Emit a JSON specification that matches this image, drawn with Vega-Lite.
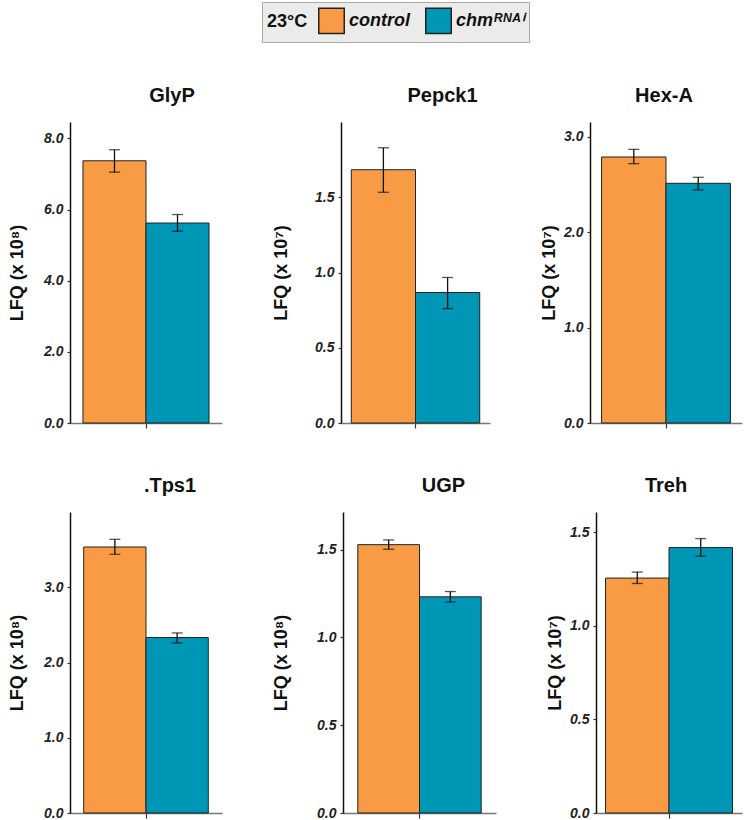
{
  "$schema": "https://vega.github.io/schema/vega-lite/v6.json",
  "padding": {"left": 8, "top": 1, "right": 2, "bottom": 2},
  "background": "white",
  "data": {"values": [
    {"gene": "GlyP", "group": "control", "value": 7.37, "lo": 7.05, "hi": 7.68},
    {"gene": "GlyP", "group": "chmᴿᴺᴬⁱ", "value": 5.62, "lo": 5.39, "hi": 5.86},
    {"gene": "Pepck1", "group": "control", "value": 1.683, "lo": 1.533, "hi": 1.829},
    {"gene": "Pepck1", "group": "chmᴿᴺᴬⁱ", "value": 0.867, "lo": 0.76, "hi": 0.967},
    {"gene": "Hex-A", "group": "control", "value": 2.79, "lo": 2.72, "hi": 2.87},
    {"gene": "Hex-A", "group": "chmᴿᴺᴬⁱ", "value": 2.514, "lo": 2.445, "hi": 2.577},
    {"gene": "Tps1", "group": "control", "value": 3.535, "lo": 3.438, "hi": 3.637},
    {"gene": "Tps1", "group": "chmᴿᴺᴬⁱ", "value": 2.332, "lo": 2.26, "hi": 2.393},
    {"gene": "UGP", "group": "control", "value": 1.528, "lo": 1.502, "hi": 1.555},
    {"gene": "UGP", "group": "chmᴿᴺᴬⁱ", "value": 1.231, "lo": 1.201, "hi": 1.261},
    {"gene": "Treh", "group": "control", "value": 1.255, "lo": 1.226, "hi": 1.287},
    {"gene": "Treh", "group": "chmᴿᴺᴬⁱ", "value": 1.418, "lo": 1.372, "hi": 1.466}
  ]},
  "resolve": {"scale": {"y": "independent", "x": "independent", "xOffset": "independent"}, "legend": {"color": "shared"}},
  "spacing": 46,
  "vconcat": [
    {
      "spacing": 50,
      "resolve": {"scale": {"y": "independent", "x": "independent", "xOffset": "independent"}, "legend": {"color": "shared"}},
      "hconcat": [
        {
          "width": 152, "height": 301,
          "title": {"text": "GlyP", "dx": 26},
          "transform": [{"filter": "datum.gene === 'GlyP'"}],
          "encoding": {
            "x": {"field": "gene", "type": "nominal", "scale": {"paddingOuter": 0.103, "paddingInner": 0}, "axis": {"labels": false, "title": null, "domainColor": "#777", "tickSize": 5}},
            "xOffset": {"field": "group", "type": "nominal", "sort": ["control", "chmᴿᴺᴬⁱ"], "scale": {"paddingInner": 0, "paddingOuter": 0}}
          },
          "layer": [
            {"mark": {"type": "bar", "stroke": "#222", "strokeWidth": 1},
             "encoding": {
               "y": {"field": "value", "type": "quantitative", "title": "LFQ (x 10⁸)", "scale": {"domain": [0, 8.46], "nice": false}, "axis": {"values": [0, 2, 4, 6, 8], "format": ".1f", "titlePadding": 17}},
               "color": {"field": "group", "type": "nominal", "title": "23°C", "sort": ["control", "chmᴿᴺᴬⁱ"], "scale": {"domain": ["control", "chmᴿᴺᴬⁱ"], "range": ["#F99B45", "#0096B6"]},
                 "legend": {"orient": "none", "legendX": 192, "legendY": -120, "direction": "horizontal", "titleOrient": "left", "symbolType": "square", "symbolSize": 650, "symbolStrokeColor": "#222", "symbolStrokeWidth": 1.5, "symbolOpacity": 1, "labelFontSize": 18, "labelFontWeight": "bold", "labelFontStyle": "italic", "labelColor": "#111", "titleFontSize": 18, "titleFontWeight": "bold", "titleColor": "#111", "fillColor": "#ebebeb", "strokeColor": "#aaaaaa", "padding": 5, "columnPadding": 12, "labelOffset": 4, "titlePadding": 10}}
             }},
            {"mark": {"type": "rule", "color": "#111", "strokeWidth": 1.3},
             "encoding": {"y": {"field": "lo", "type": "quantitative", "title": "LFQ (x 10⁸)"}, "y2": {"field": "hi"}}},
            {"mark": {"type": "tick", "orient": "horizontal", "color": "#111", "size": 11, "thickness": 1.3},
             "encoding": {"y": {"field": "lo", "type": "quantitative", "title": "LFQ (x 10⁸)"}}},
            {"mark": {"type": "tick", "orient": "horizontal", "color": "#111", "size": 11, "thickness": 1.3},
             "encoding": {"y": {"field": "hi", "type": "quantitative", "title": "LFQ (x 10⁸)"}}}
          ]
        },
        {
          "width": 149, "height": 301,
          "title": {"text": "Pepck1", "dx": 27},
          "transform": [{"filter": "datum.gene === 'Pepck1'"}],
          "encoding": {
            "x": {"field": "gene", "type": "nominal", "scale": {"paddingOuter": 0.08, "paddingInner": 0}, "axis": {"labels": false, "title": null, "domainColor": "#777", "tickSize": 5}},
            "xOffset": {"field": "group", "type": "nominal", "sort": ["control", "chmᴿᴺᴬⁱ"], "scale": {"paddingInner": 0, "paddingOuter": 0}}
          },
          "layer": [
            {"mark": {"type": "bar", "stroke": "#222", "strokeWidth": 1},
             "encoding": {
               "y": {"field": "value", "type": "quantitative", "title": "LFQ (x 10⁷)", "scale": {"domain": [0, 2.0], "nice": false}, "axis": {"values": [0, 0.5, 1, 1.5], "format": ".1f", "titlePadding": 24}},
               "color": {"field": "group", "type": "nominal", "title": "23°C", "sort": ["control", "chmᴿᴺᴬⁱ"], "scale": {"domain": ["control", "chmᴿᴺᴬⁱ"], "range": ["#F99B45", "#0096B6"]},
                 "legend": {"orient": "none", "legendX": 192, "legendY": -120, "direction": "horizontal", "titleOrient": "left", "symbolType": "square", "symbolSize": 650, "symbolStrokeColor": "#222", "symbolStrokeWidth": 1.5, "symbolOpacity": 1, "labelFontSize": 18, "labelFontWeight": "bold", "labelFontStyle": "italic", "labelColor": "#111", "titleFontSize": 18, "titleFontWeight": "bold", "titleColor": "#111", "fillColor": "#ebebeb", "strokeColor": "#aaaaaa", "padding": 5, "columnPadding": 12, "labelOffset": 4, "titlePadding": 10}}
             }},
            {"mark": {"type": "rule", "color": "#111", "strokeWidth": 1.3},
             "encoding": {"y": {"field": "lo", "type": "quantitative", "title": "LFQ (x 10⁷)"}, "y2": {"field": "hi"}}},
            {"mark": {"type": "tick", "orient": "horizontal", "color": "#111", "size": 11, "thickness": 1.3},
             "encoding": {"y": {"field": "lo", "type": "quantitative", "title": "LFQ (x 10⁷)"}}},
            {"mark": {"type": "tick", "orient": "horizontal", "color": "#111", "size": 11, "thickness": 1.3},
             "encoding": {"y": {"field": "hi", "type": "quantitative", "title": "LFQ (x 10⁷)"}}}
          ]
        },
        {
          "width": 152, "height": 301,
          "title": {"text": "Hex-A", "dx": -2},
          "transform": [{"filter": "datum.gene === 'Hex-A'"}],
          "encoding": {
            "x": {"field": "gene", "type": "nominal", "scale": {"paddingOuter": 0.09, "paddingInner": 0}, "axis": {"labels": false, "title": null, "domainColor": "#777", "tickSize": 5}},
            "xOffset": {"field": "group", "type": "nominal", "sort": ["control", "chmᴿᴺᴬⁱ"], "scale": {"paddingInner": 0, "paddingOuter": 0}}
          },
          "layer": [
            {"mark": {"type": "bar", "stroke": "#222", "strokeWidth": 1},
             "encoding": {
               "y": {"field": "value", "type": "quantitative", "title": "LFQ (x 10⁷)", "scale": {"domain": [0, 3.157], "nice": false}, "axis": {"values": [0, 1, 2, 3], "format": ".1f", "titlePadding": 5}},
               "color": {"field": "group", "type": "nominal", "title": "23°C", "sort": ["control", "chmᴿᴺᴬⁱ"], "scale": {"domain": ["control", "chmᴿᴺᴬⁱ"], "range": ["#F99B45", "#0096B6"]},
                 "legend": {"orient": "none", "legendX": 192, "legendY": -120, "direction": "horizontal", "titleOrient": "left", "symbolType": "square", "symbolSize": 650, "symbolStrokeColor": "#222", "symbolStrokeWidth": 1.5, "symbolOpacity": 1, "labelFontSize": 18, "labelFontWeight": "bold", "labelFontStyle": "italic", "labelColor": "#111", "titleFontSize": 18, "titleFontWeight": "bold", "titleColor": "#111", "fillColor": "#ebebeb", "strokeColor": "#aaaaaa", "padding": 5, "columnPadding": 12, "labelOffset": 4, "titlePadding": 10}}
             }},
            {"mark": {"type": "rule", "color": "#111", "strokeWidth": 1.3},
             "encoding": {"y": {"field": "lo", "type": "quantitative", "title": "LFQ (x 10⁷)"}, "y2": {"field": "hi"}}},
            {"mark": {"type": "tick", "orient": "horizontal", "color": "#111", "size": 11, "thickness": 1.3},
             "encoding": {"y": {"field": "lo", "type": "quantitative", "title": "LFQ (x 10⁷)"}}},
            {"mark": {"type": "tick", "orient": "horizontal", "color": "#111", "size": 11, "thickness": 1.3},
             "encoding": {"y": {"field": "hi", "type": "quantitative", "title": "LFQ (x 10⁷)"}}}
          ]
        }
      ]
    },
    {
      "spacing": 50,
      "resolve": {"scale": {"y": "independent", "x": "independent", "xOffset": "independent"}, "legend": {"color": "shared"}},
      "hconcat": [
        {
          "width": 152, "height": 301,
          "title": {"text": ".Tps1", "dx": 24},
          "transform": [{"filter": "datum.gene === 'Tps1'"}],
          "encoding": {
            "x": {"field": "gene", "type": "nominal", "scale": {"paddingOuter": 0.11, "paddingInner": 0}, "axis": {"labels": false, "title": null, "domainColor": "#777", "tickSize": 5}},
            "xOffset": {"field": "group", "type": "nominal", "sort": ["control", "chmᴿᴺᴬⁱ"], "scale": {"paddingInner": 0, "paddingOuter": 0}}
          },
          "layer": [
            {"mark": {"type": "bar", "stroke": "#222", "strokeWidth": 1},
             "encoding": {
               "y": {"field": "value", "type": "quantitative", "title": "LFQ (x 10⁸)", "scale": {"domain": [0, 4.0], "nice": false}, "axis": {"values": [0, 1, 2, 3], "format": ".1f", "titlePadding": 17}},
               "color": {"field": "group", "type": "nominal", "title": "23°C", "sort": ["control", "chmᴿᴺᴬⁱ"], "scale": {"domain": ["control", "chmᴿᴺᴬⁱ"], "range": ["#F99B45", "#0096B6"]},
                 "legend": {"orient": "none", "legendX": 192, "legendY": -120, "direction": "horizontal", "titleOrient": "left", "symbolType": "square", "symbolSize": 650, "symbolStrokeColor": "#222", "symbolStrokeWidth": 1.5, "symbolOpacity": 1, "labelFontSize": 18, "labelFontWeight": "bold", "labelFontStyle": "italic", "labelColor": "#111", "titleFontSize": 18, "titleFontWeight": "bold", "titleColor": "#111", "fillColor": "#ebebeb", "strokeColor": "#aaaaaa", "padding": 5, "columnPadding": 12, "labelOffset": 4, "titlePadding": 10}}
             }},
            {"mark": {"type": "rule", "color": "#111", "strokeWidth": 1.3},
             "encoding": {"y": {"field": "lo", "type": "quantitative", "title": "LFQ (x 10⁸)"}, "y2": {"field": "hi"}}},
            {"mark": {"type": "tick", "orient": "horizontal", "color": "#111", "size": 11, "thickness": 1.3},
             "encoding": {"y": {"field": "lo", "type": "quantitative", "title": "LFQ (x 10⁸)"}}},
            {"mark": {"type": "tick", "orient": "horizontal", "color": "#111", "size": 11, "thickness": 1.3},
             "encoding": {"y": {"field": "hi", "type": "quantitative", "title": "LFQ (x 10⁸)"}}}
          ]
        },
        {
          "width": 153, "height": 301,
          "title": {"text": "UGP", "dx": 24},
          "transform": [{"filter": "datum.gene === 'UGP'"}],
          "encoding": {
            "x": {"field": "gene", "type": "nominal", "scale": {"paddingOuter": 0.12, "paddingInner": 0}, "axis": {"labels": false, "title": null, "domainColor": "#777", "tickSize": 5}},
            "xOffset": {"field": "group", "type": "nominal", "sort": ["control", "chmᴿᴺᴬⁱ"], "scale": {"paddingInner": 0, "paddingOuter": 0}}
          },
          "layer": [
            {"mark": {"type": "bar", "stroke": "#222", "strokeWidth": 1},
             "encoding": {
               "y": {"field": "value", "type": "quantitative", "title": "LFQ (x 10⁸)", "scale": {"domain": [0, 1.714], "nice": false}, "axis": {"values": [0, 0.5, 1, 1.5], "format": ".1f", "titlePadding": 26}},
               "color": {"field": "group", "type": "nominal", "title": "23°C", "sort": ["control", "chmᴿᴺᴬⁱ"], "scale": {"domain": ["control", "chmᴿᴺᴬⁱ"], "range": ["#F99B45", "#0096B6"]},
                 "legend": {"orient": "none", "legendX": 192, "legendY": -120, "direction": "horizontal", "titleOrient": "left", "symbolType": "square", "symbolSize": 650, "symbolStrokeColor": "#222", "symbolStrokeWidth": 1.5, "symbolOpacity": 1, "labelFontSize": 18, "labelFontWeight": "bold", "labelFontStyle": "italic", "labelColor": "#111", "titleFontSize": 18, "titleFontWeight": "bold", "titleColor": "#111", "fillColor": "#ebebeb", "strokeColor": "#aaaaaa", "padding": 5, "columnPadding": 12, "labelOffset": 4, "titlePadding": 10}}
             }},
            {"mark": {"type": "rule", "color": "#111", "strokeWidth": 1.3},
             "encoding": {"y": {"field": "lo", "type": "quantitative", "title": "LFQ (x 10⁸)"}, "y2": {"field": "hi"}}},
            {"mark": {"type": "tick", "orient": "horizontal", "color": "#111", "size": 11, "thickness": 1.3},
             "encoding": {"y": {"field": "lo", "type": "quantitative", "title": "LFQ (x 10⁸)"}}},
            {"mark": {"type": "tick", "orient": "horizontal", "color": "#111", "size": 11, "thickness": 1.3},
             "encoding": {"y": {"field": "hi", "type": "quantitative", "title": "LFQ (x 10⁸)"}}}
          ]
        },
        {
          "width": 146, "height": 301,
          "title": {"text": "Treh", "dx": -3},
          "transform": [{"filter": "datum.gene === 'Treh'"}],
          "encoding": {
            "x": {"field": "gene", "type": "nominal", "scale": {"paddingOuter": 0.075, "paddingInner": 0}, "axis": {"labels": false, "title": null, "domainColor": "#777", "tickSize": 5}},
            "xOffset": {"field": "group", "type": "nominal", "sort": ["control", "chmᴿᴺᴬⁱ"], "scale": {"paddingInner": 0, "paddingOuter": 0}}
          },
          "layer": [
            {"mark": {"type": "bar", "stroke": "#222", "strokeWidth": 1},
             "encoding": {
               "y": {"field": "value", "type": "quantitative", "title": "LFQ (x 10⁷)", "scale": {"domain": [0, 1.608], "nice": false}, "axis": {"values": [0, 0.5, 1, 1.5], "format": ".1f", "titlePadding": 5}},
               "color": {"field": "group", "type": "nominal", "title": "23°C", "sort": ["control", "chmᴿᴺᴬⁱ"], "scale": {"domain": ["control", "chmᴿᴺᴬⁱ"], "range": ["#F99B45", "#0096B6"]},
                 "legend": {"orient": "none", "legendX": 192, "legendY": -120, "direction": "horizontal", "titleOrient": "left", "symbolType": "square", "symbolSize": 650, "symbolStrokeColor": "#222", "symbolStrokeWidth": 1.5, "symbolOpacity": 1, "labelFontSize": 18, "labelFontWeight": "bold", "labelFontStyle": "italic", "labelColor": "#111", "titleFontSize": 18, "titleFontWeight": "bold", "titleColor": "#111", "fillColor": "#ebebeb", "strokeColor": "#aaaaaa", "padding": 5, "columnPadding": 12, "labelOffset": 4, "titlePadding": 10}}
             }},
            {"mark": {"type": "rule", "color": "#111", "strokeWidth": 1.3},
             "encoding": {"y": {"field": "lo", "type": "quantitative", "title": "LFQ (x 10⁷)"}, "y2": {"field": "hi"}}},
            {"mark": {"type": "tick", "orient": "horizontal", "color": "#111", "size": 11, "thickness": 1.3},
             "encoding": {"y": {"field": "lo", "type": "quantitative", "title": "LFQ (x 10⁷)"}}},
            {"mark": {"type": "tick", "orient": "horizontal", "color": "#111", "size": 11, "thickness": 1.3},
             "encoding": {"y": {"field": "hi", "type": "quantitative", "title": "LFQ (x 10⁷)"}}}
          ]
        }
      ]
    }
  ],
  "config": {
    "font": "Liberation Sans",
    "view": {"stroke": null},
    "axis": {"grid": false, "labelFontSize": 14, "labelFontWeight": "bold", "labelFontStyle": "italic", "labelColor": "#222", "labelPadding": 4, "titleFontSize": 18, "titleFontWeight": "bold", "titleColor": "#111", "domainColor": "#111", "domainWidth": 1.5, "tickColor": "#333", "tickSize": 3, "tickWidth": 1.2},
    "title": {"fontSize": 20, "fontWeight": "bold", "color": "#111", "anchor": "middle", "offset": 16}
  }
}
